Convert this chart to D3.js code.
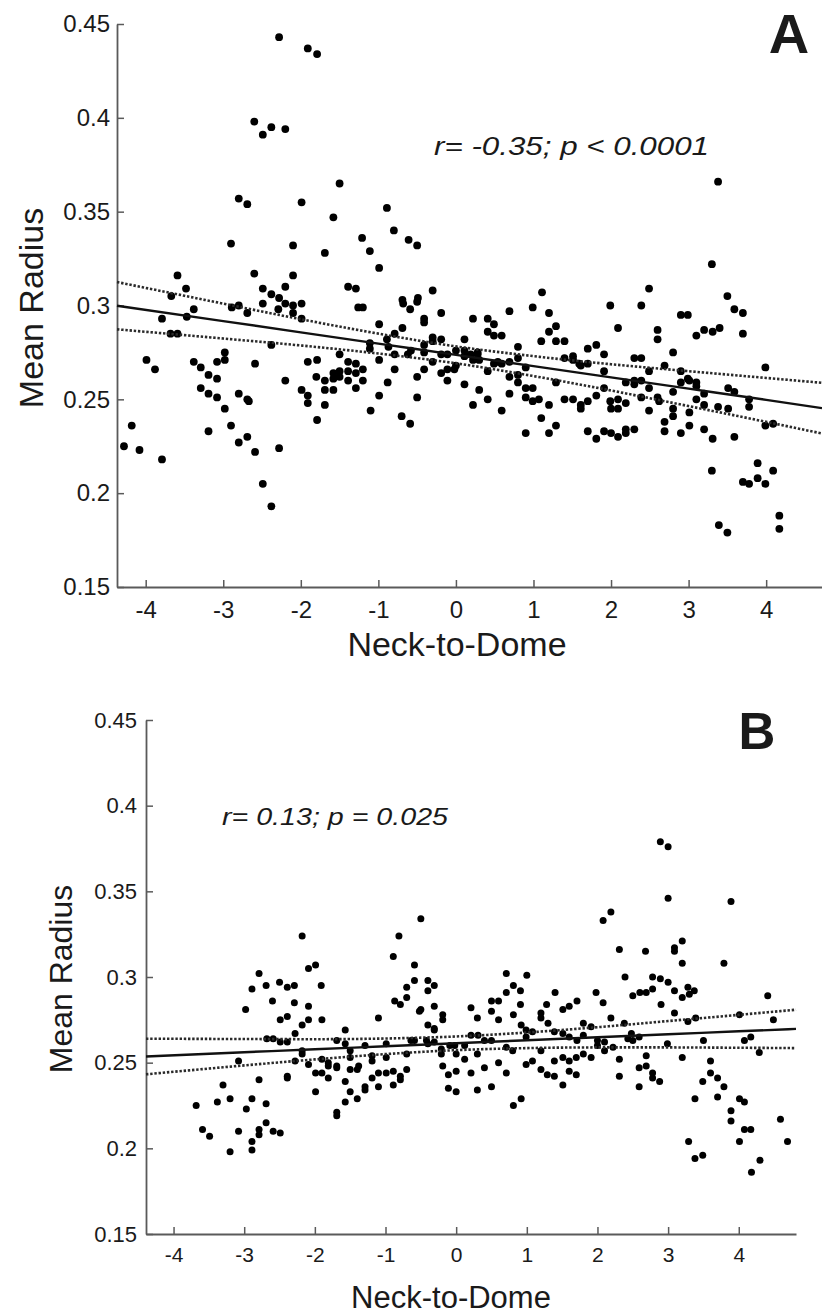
<!DOCTYPE html>
<html>
<head>
<meta charset="utf-8">
<script src="https://cdnjs.cloudflare.com/ajax/libs/d3/7.8.5/d3.min.js"></script>
<style>
  body { margin: 0; background: #fff; }
  svg { display: block; }
  text { font-family: "Liberation Sans", Arial, sans-serif; fill: #1a1a1a; }
</style>
</head>
<body>
<svg id="chart"></svg>
<script>
var width = 822,
    height = 1315;

var xTicks = [-4, -3, -2, -1, 0, 1, 2, 3, 4];
var yTicks = [0.15, 0.2, 0.25, 0.3, 0.35, 0.4, 0.45];

// panel A scatter (neck-to-dome, mean radius)
var neckA = [-2.28, -1.91, -1.79, -2.60, -2.49, -2.38, -2.20, -1.50, -2.80, -2.69, -1.99, -1.58, -0.89, -0.80, -0.61, -2.90, -2.10, -1.69, -1.21, -1.11,
    -0.99, -3.59, -2.60, -2.10, -3.48, -2.49, -2.38, -2.20, -2.28, -1.39, -1.29, -0.69, -3.67, 3.38, -0.50, 3.30, -0.30, 1.11, 2.49, 3.50,
    -0.49, -3.79, -3.68, -3.59, -3.38, -3.47, -2.89, -2.80, -2.69, -2.49, -2.20, -2.10, -1.99, -2.29, -2.10, -1.99, -2.38, -1.26, -1.20, -1.11,
    -1.11, -0.99, -0.89, -0.87, -0.79, -0.69, -0.68, -0.59, -0.79, -0.99, -0.62, -0.88, -0.79, -0.99, -1.10, -0.70, -0.59, -3.99, -3.88, -3.38,
    -3.29, -3.19, -3.08, -3.29, -3.19, -3.08, -3.08, -2.98, -2.98, -2.98, -2.59, -2.80, -2.69, -2.67, -2.90, -3.19, -2.80, -2.69, -2.59, -2.28,
    -2.49, -2.38, -4.28, -4.18, -4.08, -3.79, -2.20, -1.91, -1.79, -1.80, -1.99, -1.91, -1.91, -1.69, -1.58, -1.50, -1.50, -1.39, -1.29, -1.69,
    -1.58, -1.69, -1.79, -1.50, -1.39, -1.29, -1.20, -1.20, -1.39, -1.29, -1.58, -0.50, -0.41, -0.41, -0.19, -0.30, -0.30, -0.19, -0.41, -0.41,
    -0.58, -0.30, -0.41, -0.50, -0.50, -0.19, -0.11, -0.19, -0.11, -0.11, -0.02, 0.00, 0.00, 0.11, 0.11, 0.22, 0.11, 0.19, 0.22, 0.28,
    0.30, 0.28, 0.11, 0.22, 0.30, 0.41, 0.41, 0.41, 0.41, 0.49, 0.49, 0.59, 0.49, 0.59, 0.54, 0.69, 0.59, 0.69, 0.69, 0.80,
    0.80, 0.69, 0.80, 0.80, 0.90, 0.90, 0.99, 0.90, 0.99, 1.07, 0.90, 1.10, 1.20, 1.29, 1.20, 0.99, 1.20, 1.10, 1.20, 1.29,
    1.29, 1.40, 1.29, 1.40, 1.51, 1.51, 1.59, 1.61, 1.70, 1.40, 1.51, 1.61, 1.61, 1.70, 1.81, 1.70, 1.81, 1.91, 1.70, 1.81,
    1.91, 2.00, 2.09, 2.19, 2.19, 2.30, 1.91, 1.91, 1.99, 2.00, 2.09, 2.09, 2.19, 1.99, 2.09, 2.19, 2.30, 2.30, 2.39, 2.30,
    2.39, 2.39, 2.39, 2.49, 2.49, 2.49, 2.60, 2.60, 2.60, 2.62, 2.69, 2.80, 2.69, 2.69, 2.80, 2.80, 2.80, 2.90, 2.90, 2.99,
    3.01, 3.10, 3.10, 3.10, 2.90, 3.01, 3.01, 2.90, 2.99, 3.10, 3.20, 3.31, 3.40, 3.20, 3.20, 3.20, 3.31, 3.38, 3.51, 3.51,
    3.59, 3.59, 3.59, 3.70, 3.70, 3.78, 3.78, 3.99, 3.99, 4.09, 3.30, 3.39, 3.50, 3.70, 3.78, 3.89, 3.89, 3.99, 4.09, 4.17,
    4.17];
var radiusA = [0.443, 0.437, 0.434, 0.398, 0.391, 0.395, 0.394, 0.365, 0.357, 0.354, 0.355, 0.347, 0.352, 0.340, 0.335, 0.333, 0.332, 0.328, 0.336, 0.329,
    0.320, 0.316, 0.317, 0.316, 0.309, 0.309, 0.306, 0.310, 0.304, 0.310, 0.309, 0.303, 0.305, 0.366, 0.332, 0.322, 0.308, 0.307, 0.309, 0.305,
    0.304, 0.293, 0.285, 0.285, 0.298, 0.294, 0.299, 0.300, 0.296, 0.301, 0.301, 0.300, 0.301, 0.298, 0.296, 0.293, 0.279, 0.299, 0.299, 0.280,
    0.277, 0.290, 0.282, 0.278, 0.285, 0.288, 0.301, 0.298, 0.274, 0.271, 0.274, 0.259, 0.266, 0.252, 0.244, 0.241, 0.237, 0.271, 0.266, 0.270,
    0.267, 0.263, 0.261, 0.256, 0.253, 0.251, 0.270, 0.271, 0.275, 0.245, 0.269, 0.253, 0.250, 0.249, 0.236, 0.233, 0.227, 0.230, 0.222, 0.224,
    0.205, 0.193, 0.225, 0.236, 0.223, 0.218, 0.260, 0.270, 0.271, 0.262, 0.255, 0.252, 0.248, 0.260, 0.261, 0.262, 0.274, 0.270, 0.269, 0.255,
    0.255, 0.247, 0.239, 0.265, 0.265, 0.264, 0.266, 0.260, 0.260, 0.256, 0.264, 0.302, 0.293, 0.291, 0.296, 0.283, 0.281, 0.282, 0.279, 0.275,
    0.276, 0.270, 0.266, 0.262, 0.251, 0.274, 0.274, 0.264, 0.266, 0.260, 0.266, 0.268, 0.276, 0.276, 0.282, 0.293, 0.273, 0.274, 0.271, 0.274,
    0.271, 0.275, 0.258, 0.247, 0.255, 0.250, 0.265, 0.293, 0.286, 0.290, 0.284, 0.284, 0.269, 0.269, 0.270, 0.270, 0.244, 0.297, 0.262, 0.263,
    0.259, 0.253, 0.278, 0.272, 0.267, 0.256, 0.256, 0.251, 0.249, 0.250, 0.232, 0.240, 0.232, 0.236, 0.247, 0.299, 0.296, 0.281, 0.286, 0.289,
    0.281, 0.281, 0.259, 0.272, 0.273, 0.271, 0.269, 0.268, 0.269, 0.250, 0.250, 0.247, 0.245, 0.249, 0.252, 0.277, 0.279, 0.274, 0.233, 0.229,
    0.233, 0.232, 0.230, 0.232, 0.234, 0.234, 0.265, 0.256, 0.249, 0.245, 0.250, 0.245, 0.248, 0.300, 0.288, 0.259, 0.260, 0.258, 0.260, 0.272,
    0.272, 0.251, 0.300, 0.265, 0.256, 0.244, 0.287, 0.282, 0.251, 0.249, 0.268, 0.275, 0.238, 0.233, 0.254, 0.245, 0.241, 0.265, 0.259, 0.261,
    0.260, 0.259, 0.257, 0.250, 0.232, 0.236, 0.243, 0.295, 0.295, 0.284, 0.287, 0.286, 0.288, 0.253, 0.247, 0.234, 0.229, 0.246, 0.245, 0.256,
    0.254, 0.230, 0.298, 0.296, 0.285, 0.250, 0.246, 0.267, 0.236, 0.237, 0.212, 0.183, 0.179, 0.206, 0.205, 0.208, 0.216, 0.205, 0.212, 0.188,
    0.181];

// panel B scatter
var neckB = [-2.18, -0.81, -0.89, -2.79, -2.89, -2.69, -2.50, -2.39, -2.29, -2.09, -1.99, -1.91, -2.60, -2.29, -2.09, -2.98, -0.87, -0.79, -0.70, -0.70,
    2.89, 3.00, 3.00, 3.89, -0.50, 2.08, 2.19, 2.31, 2.68, 3.09, 3.09, 3.20, 3.20, 3.79, -0.59, -0.59, -0.40, -0.31, -0.40, 0.71,
    0.81, 0.71, 0.91, 1.00, 0.50, 0.60, 1.40, 1.28, 1.98, 2.08, 2.39, 2.50, 2.60, 2.69, 2.78, 2.78, 2.89, 3.00, 3.09, 3.28,
    3.37, 3.20, 3.30, 2.90, 4.41, 0.21, 0.91, 1.71, 1.60, -0.31, -0.50, -2.49, -2.39, -2.18, -2.09, -1.90, -2.28, -2.68, -2.59, -2.49,
    -2.39, -2.18, -2.18, -3.08, -2.28, -2.09, -1.90, -1.81, -1.81, -1.90, -1.99, -1.81, -2.39, -2.39, -2.79, -1.99, -1.69, -1.69, -1.57, -1.57,
    -1.69, -1.50, -1.50, -1.50, -1.57, -1.57, -1.50, -1.40, -1.40, -1.38, -1.69, -1.69, -1.29, -1.19, -1.19, -1.29, -1.29, -1.19, -1.10, -1.10,
    -0.99, -0.99, -0.99, -0.89, -0.89, -0.79, -0.79, -0.70, -0.70, -1.10, -3.68, -3.38, -3.20, -3.30, -3.59, -3.49, -3.20, -3.08, -2.97, -2.89,
    -2.89, -2.89, -2.79, -2.79, -2.69, -2.69, -2.59, -2.49, 4.49, 4.01, 4.08, 4.17, 4.29, 3.50, 3.39, 3.28, 3.09, 2.99, 3.20, 3.60,
    3.60, 3.70, 3.49, 3.79, 3.70, 3.38, 3.89, 3.89, 4.01, 4.08, 4.08, 4.17, 4.01, 3.29, 3.38, 3.49, 4.18, 4.30, 4.59, 4.69,
    2.88, 2.78, 2.78, 2.69, 2.59, 2.59, 2.69, 2.31, 2.31, 2.38, 2.48, 2.43, 2.50, 2.59, 2.19, 2.22, 1.91, 1.80, 1.80, 1.91,
    1.80, 2.00, 2.00, 2.10, 2.10, 1.71, 1.70, 1.60, 1.60, 1.70, 1.51, 1.39, 1.51, 1.39, 1.29, 1.20, 1.08, 0.99, 1.51, 1.39,
    1.51, 1.60, 1.20, 1.20, 1.30, 1.20, 0.99, 1.08, 0.99, 0.80, 0.71, 0.81, 0.92, 0.60, 0.50, 0.71, 0.60, 0.50, 0.81, 0.92,
    0.40, 0.50, 0.40, 0.30, 0.30, 0.21, 0.21, 0.31, 0.30, 0.12, 0.12, 0.00, 0.00, 0.00, -0.11, -0.11, -0.19, -0.21, -0.21, -0.09,
    -0.02, -0.19, -0.19, -0.31, -0.40, -0.42, -0.40, -0.31, -0.52, -0.64, -0.59, -0.31];
var radiusB = [0.324, 0.324, 0.312, 0.302, 0.293, 0.295, 0.297, 0.294, 0.295, 0.305, 0.307, 0.295, 0.286, 0.285, 0.283, 0.281, 0.286, 0.284, 0.288, 0.294,
    0.379, 0.376, 0.346, 0.344, 0.334, 0.333, 0.338, 0.316, 0.315, 0.317, 0.315, 0.321, 0.308, 0.308, 0.307, 0.298, 0.298, 0.295, 0.292, 0.302,
    0.295, 0.291, 0.292, 0.301, 0.286, 0.286, 0.291, 0.284, 0.291, 0.285, 0.300, 0.289, 0.291, 0.291, 0.293, 0.300, 0.299, 0.297, 0.292, 0.294,
    0.292, 0.288, 0.290, 0.284, 0.289, 0.282, 0.284, 0.286, 0.283, 0.283, 0.281, 0.275, 0.277, 0.272, 0.275, 0.275, 0.267, 0.264, 0.264, 0.262,
    0.262, 0.257, 0.255, 0.251, 0.251, 0.249, 0.252, 0.250, 0.248, 0.244, 0.244, 0.241, 0.242, 0.241, 0.240, 0.233, 0.248, 0.247, 0.269, 0.261,
    0.263, 0.257, 0.253, 0.246, 0.239, 0.227, 0.233, 0.246, 0.229, 0.248, 0.221, 0.219, 0.260, 0.254, 0.251, 0.236, 0.234, 0.241, 0.244, 0.236,
    0.261, 0.253, 0.244, 0.245, 0.237, 0.242, 0.240, 0.255, 0.246, 0.276, 0.225, 0.227, 0.229, 0.237, 0.211, 0.207, 0.198, 0.210, 0.223, 0.229,
    0.204, 0.199, 0.211, 0.208, 0.226, 0.215, 0.210, 0.209, 0.275, 0.278, 0.263, 0.265, 0.256, 0.263, 0.276, 0.274, 0.279, 0.261, 0.253, 0.251,
    0.244, 0.241, 0.239, 0.236, 0.230, 0.229, 0.222, 0.216, 0.229, 0.227, 0.211, 0.211, 0.204, 0.204, 0.194, 0.196, 0.186, 0.193, 0.217, 0.204,
    0.239, 0.241, 0.244, 0.254, 0.247, 0.236, 0.248, 0.252, 0.242, 0.273, 0.267, 0.264, 0.263, 0.265, 0.276, 0.259, 0.271, 0.273, 0.266, 0.253,
    0.255, 0.263, 0.260, 0.262, 0.257, 0.263, 0.253, 0.251, 0.245, 0.243, 0.253, 0.251, 0.237, 0.242, 0.243, 0.246, 0.251, 0.249, 0.281, 0.268,
    0.267, 0.265, 0.279, 0.276, 0.273, 0.257, 0.269, 0.268, 0.265, 0.257, 0.259, 0.278, 0.272, 0.275, 0.280, 0.244, 0.250, 0.236, 0.225, 0.229,
    0.263, 0.263, 0.247, 0.255, 0.234, 0.244, 0.266, 0.266, 0.276, 0.260, 0.252, 0.255, 0.245, 0.233, 0.235, 0.243, 0.248, 0.258, 0.255, 0.260,
    0.260, 0.278, 0.275, 0.270, 0.272, 0.263, 0.261, 0.262, 0.280, 0.263, 0.263, 0.269];

// regression line and 95% band, read at these x positions
var fitNeckA = [-4.37, -3, -2, -1, 0, 1, 2, 3, 4, 4.72];
var fitA = [0.2999, 0.2917, 0.2857, 0.2797, 0.2737, 0.2677, 0.2617, 0.2557, 0.2497, 0.2453];
var upperA = [0.3125, 0.3010, 0.2927, 0.2850, 0.2782, 0.2730, 0.2687, 0.2650, 0.2614, 0.2588];
var lowerA = [0.2873, 0.2824, 0.2787, 0.2744, 0.2692, 0.2624, 0.2547, 0.2464, 0.2380, 0.2318];

var fitNeckB = [-4.39, -3, -2, -1, 0, 1, 2, 3, 4, 4.81];
var fitB = [0.2536, 0.2561, 0.2578, 0.2596, 0.2613, 0.2631, 0.2648, 0.2666, 0.2683, 0.2697];
var upperB = [0.2640, 0.2638, 0.2637, 0.2641, 0.2653, 0.2676, 0.2707, 0.2743, 0.2779, 0.2809];
var lowerB = [0.2432, 0.2484, 0.2519, 0.2550, 0.2573, 0.2585, 0.2589, 0.2589, 0.2587, 0.2585];

var panels = [
    {
        letter: 'A', stat: 'r= -0.35; p < 0.0001',
        neck: neckA, radius: radiusA, fitX: fitNeckA, fit: fitA, upper: upperA, lower: lowerA,
        xDomain: [-4.37, 4.72], xRange: [117, 822], yRange: [587, 24],
        dot: 3.9, yTickFont: 24, xTickFont: 24, yPad: 7, xPad: 14,
        titleFont: 34, titleX: 457, titleY: 656,
        yLabelFont: 34, yLabelX: 43, yLabelY: 308,
        statX: 434, statY: 155, statW: 275, statFont: 25,
        letterX: 789, letterY: 53, letterFont: 56
    },
    {
        letter: 'B', stat: 'r= 0.13; p = 0.025',
        neck: neckB, radius: radiusB, fitX: fitNeckB, fit: fitB, upper: upperB, lower: lowerB,
        xDomain: [-4.39, 4.81], xRange: [146, 796], yRange: [1234, 720],
        dot: 3.5, yTickFont: 22, xTickFont: 21, yPad: 9, xPad: 13,
        titleFont: 31, titleX: 451, titleY: 1308,
        yLabelFont: 32, yLabelX: 72, yLabelY: 979,
        statX: 222, statY: 825, statW: 226, statFont: 24,
        letterX: 757, letterY: 749, letterFont: 51
    }
];

var svg = d3.select('#chart')
    .attr('width', width)
    .attr('height', height);

var fmtY = function (d) { return String(+d.toFixed(2)); };

panels.forEach(function (p) {
    var x = d3.scaleLinear().domain(p.xDomain).range(p.xRange);
    var y = d3.scaleLinear().domain([0.15, 0.45]).range(p.yRange);
    var g = svg.append('g').attr('class', 'panel-' + p.letter);

    // axes, ticks pointing inward
    var xAxis = d3.axisBottom(x)
        .tickValues(xTicks)
        .tickFormat(function (d) { return String(d); })
        .tickSizeInner(-7)
        .tickSizeOuter(0)
        .tickPadding(p.xPad);

    var yAxis = d3.axisLeft(y)
        .tickValues(yTicks)
        .tickFormat(fmtY)
        .tickSizeInner(-7)
        .tickSizeOuter(0)
        .tickPadding(p.yPad);

    var gx = g.append('g')
        .attr('transform', 'translate(0,' + p.yRange[0] + ')')
        .call(xAxis);
    gx.selectAll('text').style('font-size', p.xTickFont + 'px').attr('fill', '#1a1a1a');

    var gy = g.append('g')
        .attr('transform', 'translate(' + p.xRange[0] + ',0)')
        .call(yAxis);
    gy.selectAll('text').style('font-size', p.yTickFont + 'px').attr('fill', '#1a1a1a');

    g.selectAll('.domain').attr('stroke', '#5a5a5a').attr('stroke-width', 1.8);
    g.selectAll('.tick line').attr('stroke', '#5a5a5a').attr('stroke-width', 1.5);

    // points
    var pts = p.neck.map(function (d, i) { return [d, p.radius[i]]; });
    g.append('g')
        .selectAll('circle')
        .data(pts)
        .enter()
        .append('circle')
        .attr('cx', function (d) { return x(d[0]); })
        .attr('cy', function (d) { return y(d[1]); })
        .attr('r', p.dot)
        .attr('fill', '#000');

    // fit + confidence band
    var line = d3.line()
        .x(function (d) { return x(d[0]); })
        .y(function (d) { return y(d[1]); })
        .curve(d3.curveMonotoneX);

    var pair = function (vals) {
        return p.fitX.map(function (d, i) { return [d, vals[i]]; });
    };

    [p.upper, p.lower].forEach(function (band) {
        g.append('path')
            .attr('d', line(pair(band)))
            .attr('fill', 'none')
            .attr('stroke', '#2a2a2a')
            .attr('stroke-width', 2.6)
            .attr('stroke-dasharray', '2.4,1.8');
    });
    g.append('path')
        .attr('d', line(pair(p.fit)))
        .attr('fill', 'none')
        .attr('stroke', '#111')
        .attr('stroke-width', 2.4);

    // labels
    g.append('text')
        .attr('x', p.titleX)
        .attr('y', p.titleY)
        .attr('text-anchor', 'middle')
        .style('font-size', p.titleFont + 'px')
        .text('Neck-to-Dome');

    g.append('text')
        .attr('transform', 'translate(' + p.yLabelX + ',' + p.yLabelY + ') rotate(-90)')
        .attr('text-anchor', 'middle')
        .style('font-size', p.yLabelFont + 'px')
        .text('Mean Radius');

    g.append('text')
        .attr('x', p.statX)
        .attr('y', p.statY)
        .attr('textLength', p.statW)
        .attr('lengthAdjust', 'spacingAndGlyphs')
        .style('font-size', p.statFont + 'px')
        .style('font-style', 'italic')
        .text(p.stat);

    g.append('text')
        .attr('x', p.letterX)
        .attr('y', p.letterY)
        .attr('text-anchor', 'middle')
        .style('font-size', p.letterFont + 'px')
        .style('font-weight', 'bold')
        .attr('fill', '#000')
        .text(p.letter);
});
</script>
</body>
</html>
